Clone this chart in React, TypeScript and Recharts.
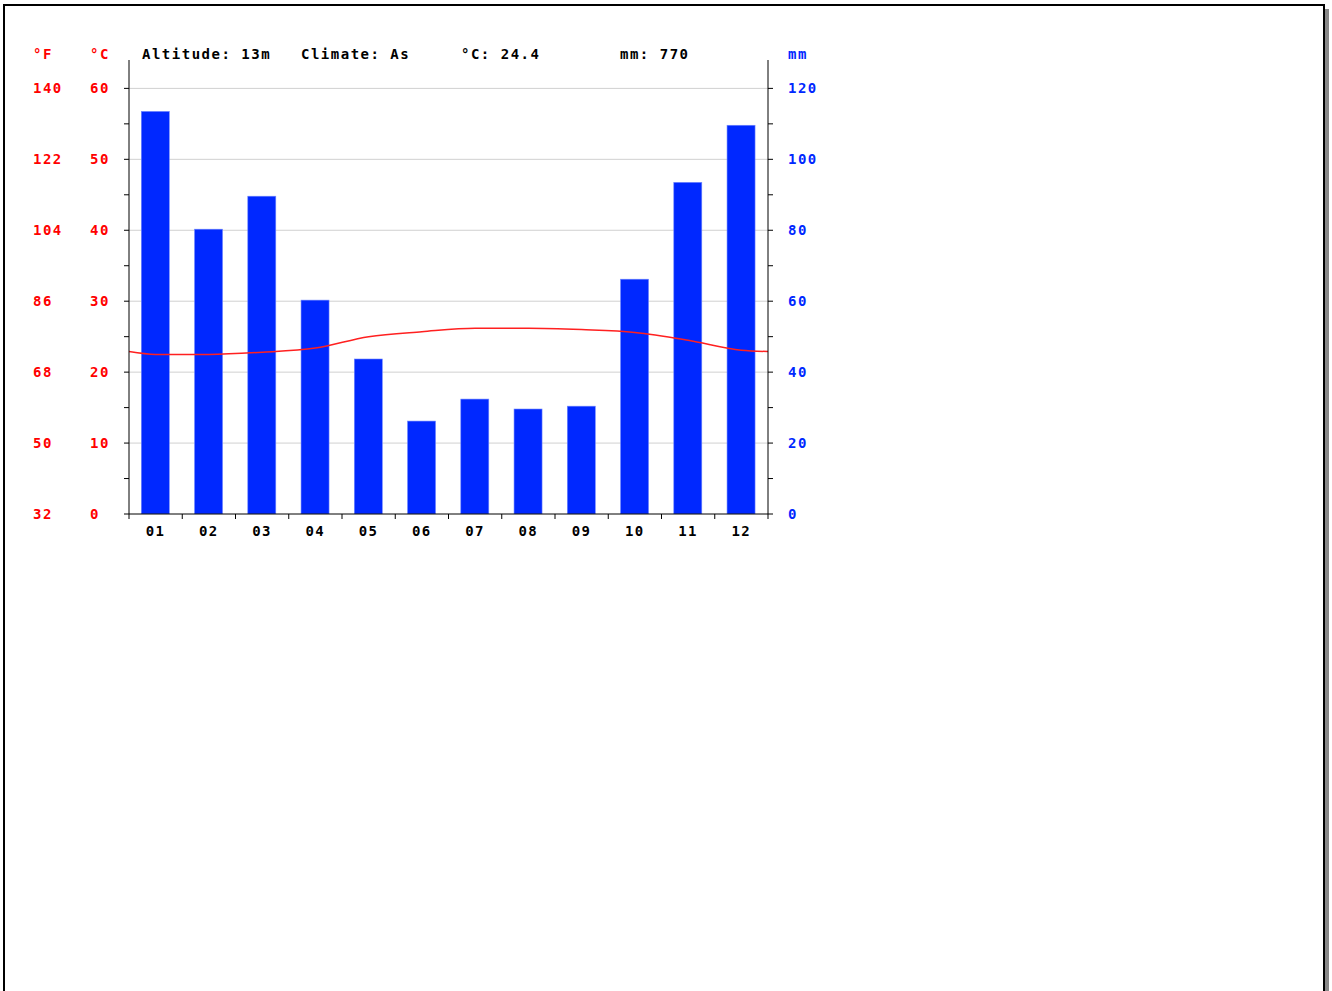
import React from 'react'
import {
    ComposedChart,
    Bar,
    Line,
    XAxis,
    YAxis,
    CartesianGrid,
} from "recharts";

const months = ["01", "02", "03", "04", "05", "06", "07", "08", "09", "10", "11", "12"];
const rainMm = [113.5, 80.3, 89.6, 60.3, 43.7, 26.2, 32.4, 29.6, 30.4, 66.2, 93.5, 109.6];
const tempC = [22.5, 22.5, 22.8, 23.4, 25.0, 25.7, 26.2, 26.2, 26.0, 25.6, 24.5, 23.1];
// temperature where the curve meets the left and right axes
const tempAtEdges = [22.9, 22.9];

const tempTicks = [0, 5, 10, 15, 20, 25, 30, 35, 40, 45, 50, 55, 60];
const rainTicks = [0, 10, 20, 30, 40, 50, 60, 70, 80, 90, 100, 110, 120];
const gridTemps = [10, 20, 30, 40, 50, 60];
const monthEdges = [0, 1, 2, 3, 4, 5, 6, 7, 8, 9, 10, 11, 12];

const barRows = months.map((m, i) => ({ x: i + 0.5, month: m, rain: rainMm[i] }));
const lineRows = [
    { x: 0, temp: tempAtEdges[0] },
    ...months.map((m, i) => ({ x: i + 0.5, temp: tempC[i] })),
    { x: 12, temp: tempAtEdges[1] },
];

const FONT = "'DejaVu Sans Mono', monospace";
const RED = "#ff0000";
const BLUE = "#0028ff";
const STEP = (768 - 129) / 12;
const BAR_W = 28;

const txt = {
    fontFamily: FONT,
    fontWeight: 700,
    fontSize: 14,
    letterSpacing: 1.5,
};

function TempTick(props: any) {
    const { y, payload } = props;
    if (payload.value % 10 !== 0) return null;
    const f = Math.round(payload.value * 9 / 5 + 32);
    return (
        <g>
            <text x={33} y={y} dy={5} fill={RED} style={txt}>{f}</text>
            <text x={90} y={y} dy={5} fill={RED} style={txt}>{payload.value}</text>
        </g>
    );
}

function RainTick(props: any) {
    const { y, payload } = props;
    if (payload.value % 20 !== 0) return null;
    return <text x={788} y={y} dy={5} fill={BLUE} style={txt}>{payload.value}</text>;
}

function MonthTick(props: any) {
    const { x, payload } = props;
    const i = payload.value;
    if (i >= months.length) return null;
    return (
        <text x={x + STEP / 2} y={536} textAnchor="middle" fill="#000" style={txt}>
            {months[i]}
        </text>
    );
}

// keep the library's bar centre and height, fixed width
function RainBar(props: any) {
    const { x, y, width, height } = props;
    if (!height) return null;
    const cx = x + width / 2;
    return <rect x={cx - BAR_W / 2} y={y} width={BAR_W} height={height} fill={BLUE} stroke="#6f86ff" strokeWidth={0.6} />;
}

const head = (left: number, color: string): React.CSSProperties => ({
    position: "absolute",
    left,
    top: 46,
    color,
    lineHeight: "16px",
    whiteSpace: "pre",
    ...txt,
    letterSpacing: "1.5px",
});

export default function App() {
    return (
        <div style={{ position: "absolute", left: 0, top: 0, width: 1332, height: 991, overflow: "hidden", background: "#fff" }}>
            <div style={{
                position: "absolute", left: 3, top: 4, width: 1322, height: 1200,
                boxSizing: "border-box", border: "2px solid #000", boxShadow: "4px 5px 0 #888",
            }} />

            <div style={head(33, RED)}>°F</div>
            <div style={head(90, RED)}>°C</div>
            <div style={head(142, "#000")}>Altitude: 13m</div>
            <div style={head(301, "#000")}>Climate: As</div>
            <div style={head(461, "#000")}>°C: 24.4</div>
            <div style={head(620, "#000")}>mm: 770</div>
            <div style={head(788, BLUE)}>mm</div>

            <div style={{ position: "absolute", left: 0, top: 0 }}>
                <ComposedChart
                    width={900}
                    height={560}
                    data={barRows}
                    margin={{ top: 60, right: 0, bottom: 0, left: 0 }}
                >
                    <CartesianGrid
                        yAxisId="temp"
                        vertical={false}
                        horizontalValues={gridTemps}
                        stroke="#d0d0d0"
                    />
                    <XAxis
                        dataKey="x"
                        type="number"
                        domain={[0, 12]}
                        ticks={monthEdges}
                        interval={0}
                        tickSize={5}
                        height={46}
                        axisLine={{ stroke: "#000" }}
                        tickLine={{ stroke: "#000" }}
                        tick={<MonthTick />}
                    />
                    <YAxis
                        yAxisId="temp"
                        orientation="left"
                        width={129}
                        domain={[0, 64]}
                        ticks={tempTicks}
                        interval={0}
                        allowDataOverflow
                        tickSize={5}
                        axisLine={{ stroke: "#000" }}
                        tickLine={{ stroke: "#000" }}
                        tick={<TempTick />}
                    />
                    <YAxis
                        yAxisId="rain"
                        orientation="right"
                        width={132}
                        domain={[0, 128]}
                        ticks={rainTicks}
                        interval={0}
                        allowDataOverflow
                        tickSize={5}
                        axisLine={{ stroke: "#000" }}
                        tickLine={{ stroke: "#000" }}
                        tick={<RainTick />}
                    />
                    <Bar
                        yAxisId="rain"
                        dataKey="rain"
                        fill={BLUE}
                        barSize={BAR_W}
                        shape={<RainBar />}
                        isAnimationActive={false}
                    />
                    <Line
                        yAxisId="temp"
                        data={lineRows}
                        dataKey="temp"
                        type="monotone"
                        stroke="#ff2020"
                        strokeWidth={1.5}
                        dot={false}
                        activeDot={false}
                        isAnimationActive={false}
                    />
                </ComposedChart>
            </div>
        </div>
    );
}
